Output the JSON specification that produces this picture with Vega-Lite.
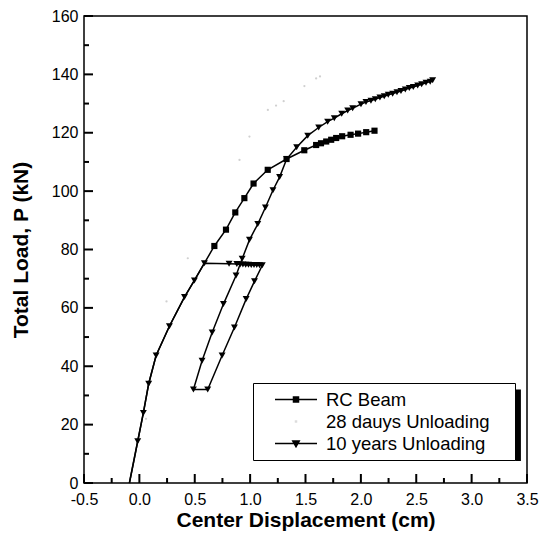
{
  "$schema": "https://vega.github.io/schema/vega-lite/v6.json",
  "width": 443,
  "height": 467,
  "autosize": {"type": "none"},
  "padding": {"left": 84, "top": 16, "right": 19, "bottom": 69},
  "config": {
    "font": "Liberation Sans",
    "view": {"stroke": "black", "strokeWidth": 1.5},
    "axis": {"labelColor": "black", "titleColor": "black", "domain": false, "ticks": false, "tickSize": 0, "grid": false}
  },
  "datasets": {
    "curves": [
      {"s": "10 years Unloading", "i": 1, "x": -0.09, "P": 0},
      {"s": "10 years Unloading", "i": 2, "x": -0.015, "P": 14.3},
      {"s": "10 years Unloading", "i": 3, "x": 0.036, "P": 24.0},
      {"s": "10 years Unloading", "i": 4, "x": 0.084, "P": 34.0},
      {"s": "10 years Unloading", "i": 5, "x": 0.151, "P": 43.7},
      {"s": "10 years Unloading", "i": 6, "x": 0.271, "P": 53.7},
      {"s": "10 years Unloading", "i": 7, "x": 0.407, "P": 63.7},
      {"s": "10 years Unloading", "i": 8, "x": 0.497, "P": 69.4},
      {"s": "10 years Unloading", "i": 9, "x": 0.587, "P": 75.3},
      {"s": "10 years Unloading", "i": 10, "x": 0.81, "P": 75.1},
      {"s": "10 years Unloading", "i": 11, "x": 0.88, "P": 75.0},
      {"s": "10 years Unloading", "i": 12, "x": 0.91, "P": 74.9},
      {"s": "10 years Unloading", "i": 13, "x": 0.935, "P": 74.9},
      {"s": "10 years Unloading", "i": 14, "x": 0.96, "P": 74.8},
      {"s": "10 years Unloading", "i": 15, "x": 0.985, "P": 74.8},
      {"s": "10 years Unloading", "i": 16, "x": 1.01, "P": 74.7},
      {"s": "10 years Unloading", "i": 17, "x": 1.035, "P": 74.7},
      {"s": "10 years Unloading", "i": 18, "x": 1.06, "P": 74.7},
      {"s": "10 years Unloading", "i": 19, "x": 1.085, "P": 74.6},
      {"s": "10 years Unloading", "i": 20, "x": 1.11, "P": 74.6},
      {"s": "10 years Unloading", "i": 21, "x": 1.039, "P": 69.1},
      {"s": "10 years Unloading", "i": 22, "x": 0.964, "P": 63.0},
      {"s": "10 years Unloading", "i": 23, "x": 0.858, "P": 53.3},
      {"s": "10 years Unloading", "i": 24, "x": 0.747, "P": 43.7},
      {"s": "10 years Unloading", "i": 25, "x": 0.617, "P": 32.0},
      {"s": "10 years Unloading", "i": 26, "x": 0.488, "P": 32.0},
      {"s": "10 years Unloading", "i": 27, "x": 0.566, "P": 41.9},
      {"s": "10 years Unloading", "i": 28, "x": 0.657, "P": 51.6},
      {"s": "10 years Unloading", "i": 29, "x": 0.759, "P": 61.3},
      {"s": "10 years Unloading", "i": 30, "x": 0.873, "P": 71.1},
      {"s": "10 years Unloading", "i": 31, "x": 0.928, "P": 76.8},
      {"s": "10 years Unloading", "i": 32, "x": 0.994, "P": 83.3},
      {"s": "10 years Unloading", "i": 33, "x": 1.069, "P": 88.7},
      {"s": "10 years Unloading", "i": 34, "x": 1.138, "P": 94.4},
      {"s": "10 years Unloading", "i": 35, "x": 1.206, "P": 100.3},
      {"s": "10 years Unloading", "i": 36, "x": 1.266, "P": 104.8},
      {"s": "10 years Unloading", "i": 37, "x": 1.33, "P": 111.0},
      {"s": "10 years Unloading", "i": 38, "x": 1.42, "P": 115.0},
      {"s": "10 years Unloading", "i": 39, "x": 1.52, "P": 119.0},
      {"s": "10 years Unloading", "i": 40, "x": 1.619, "P": 121.8},
      {"s": "10 years Unloading", "i": 41, "x": 1.7, "P": 123.8},
      {"s": "10 years Unloading", "i": 42, "x": 1.76, "P": 125.0},
      {"s": "10 years Unloading", "i": 43, "x": 1.827, "P": 126.5},
      {"s": "10 years Unloading", "i": 44, "x": 1.881, "P": 127.6},
      {"s": "10 years Unloading", "i": 45, "x": 1.926, "P": 128.4},
      {"s": "10 years Unloading", "i": 46, "x": 2.001, "P": 129.8},
      {"s": "10 years Unloading", "i": 47, "x": 2.046, "P": 130.5},
      {"s": "10 years Unloading", "i": 48, "x": 2.091, "P": 131.0},
      {"s": "10 years Unloading", "i": 49, "x": 2.13, "P": 131.5},
      {"s": "10 years Unloading", "i": 50, "x": 2.172, "P": 132.1},
      {"s": "10 years Unloading", "i": 51, "x": 2.211, "P": 132.5},
      {"s": "10 years Unloading", "i": 52, "x": 2.247, "P": 133.0},
      {"s": "10 years Unloading", "i": 53, "x": 2.287, "P": 133.4},
      {"s": "10 years Unloading", "i": 54, "x": 2.326, "P": 133.9},
      {"s": "10 years Unloading", "i": 55, "x": 2.362, "P": 134.3},
      {"s": "10 years Unloading", "i": 56, "x": 2.401, "P": 134.8},
      {"s": "10 years Unloading", "i": 57, "x": 2.437, "P": 135.3},
      {"s": "10 years Unloading", "i": 58, "x": 2.473, "P": 135.7},
      {"s": "10 years Unloading", "i": 59, "x": 2.513, "P": 136.2},
      {"s": "10 years Unloading", "i": 60, "x": 2.549, "P": 136.6},
      {"s": "10 years Unloading", "i": 61, "x": 2.588, "P": 137.1},
      {"s": "10 years Unloading", "i": 62, "x": 2.626, "P": 137.5},
      {"s": "10 years Unloading", "i": 63, "x": 2.648, "P": 138.0},
      {"s": "RC Beam", "i": 1, "x": -0.09, "P": 0},
      {"s": "RC Beam", "i": 2, "x": -0.015, "P": 14.3},
      {"s": "RC Beam", "i": 3, "x": 0.036, "P": 24.0},
      {"s": "RC Beam", "i": 4, "x": 0.084, "P": 34.0},
      {"s": "RC Beam", "i": 5, "x": 0.151, "P": 43.7},
      {"s": "RC Beam", "i": 6, "x": 0.271, "P": 53.7},
      {"s": "RC Beam", "i": 7, "x": 0.407, "P": 63.7},
      {"s": "RC Beam", "i": 8, "x": 0.497, "P": 69.4},
      {"s": "RC Beam", "i": 9, "x": 0.587, "P": 75.3},
      {"s": "RC Beam", "i": 10, "x": 0.677, "P": 81.2},
      {"s": "RC Beam", "i": 11, "x": 0.782, "P": 86.8},
      {"s": "RC Beam", "i": 12, "x": 0.866, "P": 92.7},
      {"s": "RC Beam", "i": 13, "x": 0.948, "P": 97.6},
      {"s": "RC Beam", "i": 14, "x": 1.031, "P": 102.6},
      {"s": "RC Beam", "i": 15, "x": 1.159, "P": 107.3},
      {"s": "RC Beam", "i": 16, "x": 1.329, "P": 111.0},
      {"s": "RC Beam", "i": 17, "x": 1.489, "P": 114.0},
      {"s": "RC Beam", "i": 18, "x": 1.596, "P": 115.8},
      {"s": "RC Beam", "i": 19, "x": 1.64, "P": 116.4},
      {"s": "RC Beam", "i": 20, "x": 1.687, "P": 117.0},
      {"s": "RC Beam", "i": 21, "x": 1.732, "P": 117.6},
      {"s": "RC Beam", "i": 22, "x": 1.777, "P": 118.2},
      {"s": "RC Beam", "i": 23, "x": 1.831, "P": 118.8},
      {"s": "RC Beam", "i": 24, "x": 1.907, "P": 119.3},
      {"s": "RC Beam", "i": 25, "x": 1.975, "P": 119.7},
      {"s": "RC Beam", "i": 26, "x": 2.048, "P": 120.2},
      {"s": "RC Beam", "i": 27, "x": 2.123, "P": 120.7},
      {"s": "28 dauys Unloading", "i": 1, "x": 0.06, "P": 22},
      {"s": "28 dauys Unloading", "i": 2, "x": 0.15, "P": 44.5},
      {"s": "28 dauys Unloading", "i": 3, "x": 0.245, "P": 62.2},
      {"s": "28 dauys Unloading", "i": 4, "x": 0.437, "P": 77},
      {"s": "28 dauys Unloading", "i": 5, "x": 0.904, "P": 110.7},
      {"s": "28 dauys Unloading", "i": 6, "x": 0.994, "P": 118.7},
      {"s": "28 dauys Unloading", "i": 7, "x": 1.16, "P": 127.8},
      {"s": "28 dauys Unloading", "i": 8, "x": 1.234, "P": 129.3},
      {"s": "28 dauys Unloading", "i": 9, "x": 1.303, "P": 130.8},
      {"s": "28 dauys Unloading", "i": 10, "x": 1.49, "P": 136},
      {"s": "28 dauys Unloading", "i": 11, "x": 1.596, "P": 138.6},
      {"s": "28 dauys Unloading", "i": 12, "x": 1.631, "P": 139.3}
    ],
    "shadow": [
      {"x1": 1.1, "x2": 3.445, "y1": 7.5, "y2": 32}
    ],
    "xticks": [
      {"v": -0.5, "k": "major"}, {"v": 0, "k": "major"}, {"v": 0.5, "k": "major"}, {"v": 1, "k": "major"},
      {"v": 1.5, "k": "major"}, {"v": 2, "k": "major"}, {"v": 2.5, "k": "major"}, {"v": 3, "k": "major"}, {"v": 3.5, "k": "major"},
      {"v": -0.25, "k": "minor"}, {"v": 0.25, "k": "minor"}, {"v": 0.75, "k": "minor"}, {"v": 1.25, "k": "minor"},
      {"v": 1.75, "k": "minor"}, {"v": 2.25, "k": "minor"}, {"v": 2.75, "k": "minor"}, {"v": 3.25, "k": "minor"}
    ],
    "yticks": [
      {"v": 0, "k": "major"}, {"v": 20, "k": "major"}, {"v": 40, "k": "major"}, {"v": 60, "k": "major"}, {"v": 80, "k": "major"},
      {"v": 100, "k": "major"}, {"v": 120, "k": "major"}, {"v": 140, "k": "major"}, {"v": 160, "k": "major"},
      {"v": 10, "k": "minor"}, {"v": 30, "k": "minor"}, {"v": 50, "k": "minor"}, {"v": 70, "k": "minor"},
      {"v": 90, "k": "minor"}, {"v": 110, "k": "minor"}, {"v": 130, "k": "minor"}, {"v": 150, "k": "minor"}
    ]
  },
  "layer": [
    {
      "data": {"name": "shadow"},
      "mark": {"type": "rect", "color": "black"},
      "encoding": {
        "x": {"field": "x1", "type": "quantitative", "scale": {"domain": [-0.5, 3.5], "nice": false, "zero": false},
          "axis": {
            "values": [-0.5, 0, 0.5, 1, 1.5, 2, 2.5, 3, 3.5],
            "labelExpr": "replace(format(datum.value, '.1f'), '\u2212', '-')",
            "labelPadding": 8,
            "labelFontSize": 16,
            "labelFlush": false,
            "labelOverlap": false,
            "title": "Center Displacement (cm)",
            "titleFontSize": 21,
            "titleFontWeight": "bold",
            "titlePadding": 2
          }},
        "x2": {"field": "x2"},
        "y": {"field": "y1", "type": "quantitative", "scale": {"domain": [0, 160], "nice": false, "zero": false},
          "axis": {
            "values": [0, 20, 40, 60, 80, 100, 120, 140, 160],
            "labelPadding": 6,
            "labelFontSize": 16,
            "labelFlush": false,
            "labelOverlap": false,
            "title": "Total Load, P (kN)",
            "titleFontSize": 21,
            "titleFontWeight": "bold",
            "titlePadding": 20
          }},
        "y2": {"field": "y2"}
      }
    },
    {
      "data": {"name": "xticks"},
      "transform": [{"filter": "datum.k === 'major'"}],
      "mark": {"type": "tick", "orient": "vertical", "color": "black", "opacity": 1, "size": 9, "thickness": 2, "yOffset": -4.5},
      "encoding": {
        "x": {"field": "v", "type": "quantitative"},
        "y": {"datum": 0, "type": "quantitative"}
      }
    },
    {
      "data": {"name": "xticks"},
      "transform": [{"filter": "datum.k === 'minor'"}],
      "mark": {"type": "tick", "orient": "vertical", "color": "black", "opacity": 1, "size": 5, "thickness": 2, "yOffset": -2.5},
      "encoding": {
        "x": {"field": "v", "type": "quantitative"},
        "y": {"datum": 0, "type": "quantitative"}
      }
    },
    {
      "data": {"name": "yticks"},
      "transform": [{"filter": "datum.k === 'major'"}],
      "mark": {"type": "tick", "orient": "horizontal", "color": "black", "opacity": 1, "size": 9, "thickness": 2, "xOffset": 4.5},
      "encoding": {
        "y": {"field": "v", "type": "quantitative"},
        "x": {"datum": -0.5, "type": "quantitative"}
      }
    },
    {
      "data": {"name": "yticks"},
      "transform": [{"filter": "datum.k === 'minor'"}],
      "mark": {"type": "tick", "orient": "horizontal", "color": "black", "opacity": 1, "size": 5, "thickness": 2, "xOffset": 2.5},
      "encoding": {
        "y": {"field": "v", "type": "quantitative"},
        "x": {"datum": -0.5, "type": "quantitative"}
      }
    },
    {
      "data": {"name": "curves"},
      "transform": [{"filter": "datum.s === '28 dauys Unloading'"}],
      "mark": {"type": "point", "filled": true, "shape": "circle", "size": 5, "color": "#d0d0d0", "opacity": 1},
      "encoding": {
        "x": {"field": "x", "type": "quantitative"},
        "y": {"field": "P", "type": "quantitative"}
      }
    },
    {
      "data": {"name": "curves"},
      "transform": [{"filter": "datum.s !== '28 dauys Unloading'"}],
      "mark": {"type": "line", "strokeWidth": 1.5},
      "encoding": {
        "x": {"field": "x", "type": "quantitative"},
        "y": {"field": "P", "type": "quantitative"},
        "order": {"field": "i", "type": "quantitative"},
        "color": {
          "field": "s", "type": "nominal",
          "scale": {"domain": ["RC Beam", "28 dauys Unloading", "10 years Unloading"], "range": ["black", "#dcdcdc", "black"]},
          "legend": {
            "title": "\u00a0",
            "titleOrient": "right",
            "titlePadding": 19,
            "titleFontSize": 8,
            "orient": "none",
            "legendX": 169,
            "legendY": 367,
            "fillColor": "white",
            "strokeColor": "black",
            "padding": 6,
            "labelFontSize": 18.5,
            "labelColor": "black",
            "labelLimit": 400,
            "labelOffset": 19,
            "symbolOffset": 26,
            "symbolSize": 400,
            "clipHeight": 21,
            "rowPadding": 1,
            "encode": {
              "symbols": {
                "update": {
                  "shape": {"signal": "datum.value === 'RC Beam' ? 'M-2.1,0H2.1M-0.25,-0.25H0.25V0.25H-0.25Z' : (datum.value === '10 years Unloading' ? 'M-2.1,0H2.1M-0.32,-0.24L0.32,-0.24L0,0.32Z' : 'M-0.05,-0.05H0.05V0.05H-0.05Z')"},
                  "fill": {"signal": "datum.value === '28 dauys Unloading' ? '#dcdcdc' : 'black'"},
                  "stroke": {"signal": "datum.value === '28 dauys Unloading' ? '#dcdcdc' : 'black'"},
                  "strokeWidth": {"value": 1.5},
                  "opacity": {"value": 1},
                  "fillOpacity": {"value": 1},
                  "size": {"value": 400}
                }
              }
            }
          }
        }
      }
    },
    {
      "data": {"name": "curves"},
      "transform": [{"filter": "datum.s === 'RC Beam' && datum.P > 77"}],
      "mark": {"type": "point", "filled": true, "shape": "square", "opacity": 1, "size": 38, "color": "black"},
      "encoding": {
        "x": {"field": "x", "type": "quantitative"},
        "y": {"field": "P", "type": "quantitative"}
      }
    },
    {
      "data": {"name": "curves"},
      "transform": [{"filter": "datum.s === '10 years Unloading' && datum.P > 1"}],
      "mark": {"type": "point", "filled": true, "shape": "triangle-down", "opacity": 1, "size": 48, "color": "black"},
      "encoding": {
        "x": {"field": "x", "type": "quantitative"},
        "y": {"field": "P", "type": "quantitative"}
      }
    }
  ]
}
